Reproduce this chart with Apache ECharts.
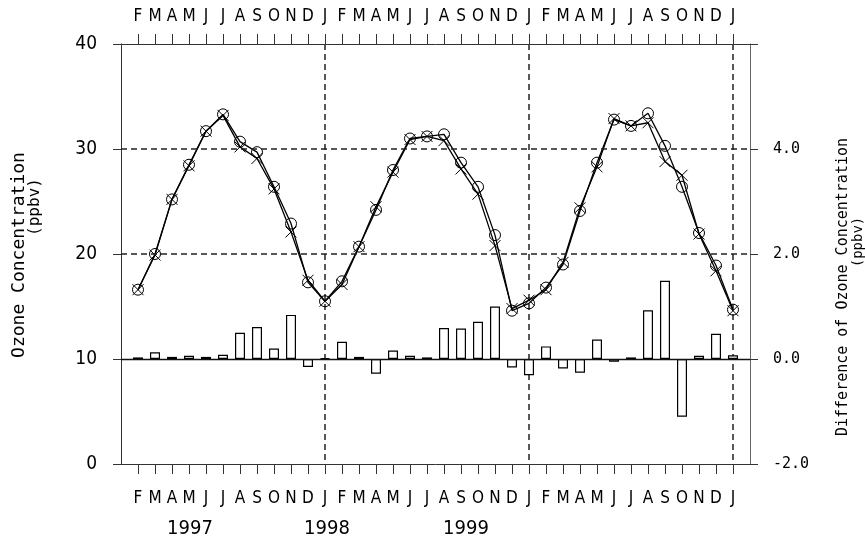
<!DOCTYPE html>
<html>
<head>
<meta charset="utf-8">
<script src="https://cdn.jsdelivr.net/npm/echarts@6/dist/echarts.min.js"></script>
<style>
  html, body { margin: 0; padding: 0; background: #fff; }
  #chart { width: 865px; height: 544px; }
</style>
</head>
<body>
<div id="chart"></div>
<script>
// Month axis from Jan 1997 to Feb 2000; the outer two slots are the plot edges
const monthTicks = [
  'J','F','M','A','M','J','J','A','S','O','N','D',
  'J','F','M','A','M','J','J','A','S','O','N','D',
  'J','F','M','A','M','J','J','A','S','O','N','D',
  'J','F'
];
const years = ['1997', '1998', '1999'];

// Monthly ozone, Feb 1997 .. Jan 2000 (ppbv)
const ozoneCircle = [
  16.6, 20.0, 25.2, 28.5, 31.7, 33.3, 30.7, 29.7, 26.4, 22.9, 17.3,
  15.5, 17.4, 20.7, 24.2, 28.0, 31.0, 31.2, 31.4, 28.7, 26.4, 21.8, 14.6,
  15.3, 16.8, 19.0, 24.1, 28.7, 32.8, 32.2, 33.4, 30.3, 26.4, 22.0, 18.9,
  14.7
];
const ozoneCross = [
  16.6, 19.9, 25.2, 28.4, 31.7, 33.2, 30.2, 29.1, 26.2, 22.1, 17.5,
  15.5, 17.1, 20.7, 24.5, 27.8, 30.9, 31.2, 30.8, 28.1, 25.7, 20.8, 14.8,
  15.6, 16.6, 19.2, 24.4, 28.3, 32.9, 32.2, 32.5, 28.8, 27.5, 21.9, 18.4,
  14.6
];
// Difference between the two (ppbv)
const ozoneDiff = [
  0.03, 0.13, 0.04, 0.06, 0.04, 0.08, 0.50, 0.61, 0.20, 0.84, -0.15,
  0.02, 0.33, 0.04, -0.28, 0.16, 0.06, 0.03, 0.59, 0.58, 0.71, 1.00, -0.16,
  -0.31, 0.24, -0.18, -0.26, 0.37, -0.05, 0.03, 0.93, 1.49, -1.10, 0.06, 0.48,
  0.07
];
const leftTicks = [0, 10, 20, 30, 40];
const rightTicks = [-2, 0, 2, 4, 6];
const dashedLevels = [20, 30];
const yearBreaks = [12, 24, 36];

const FONT_NUM = "'Liberation Sans Narrow', 'DejaVu Sans Condensed', 'Liberation Sans', sans-serif";
const FONT_MONO = "'DejaVu Sans Mono', 'Liberation Mono', monospace";
const INK = '#000';
const AXIS = '#333';
const DASH = { color: '#222', width: 1.5, type: [6, 4] };

const toPairs = arr => arr.map((v, i) => [i + 1, v]);
const inner = idx => idx >= 1 && idx <= monthTicks.length - 2;

const chart = echarts.init(document.getElementById('chart'), null, { renderer: 'canvas' });

const crossPath = 'path://M0,0L10,10M10,0L0,10';

const xAxisBase = {
  type: 'category',
  data: monthTicks,
  boundaryGap: false,
  axisLine: { show: true, onZero: false, lineStyle: { color: AXIS, width: 1 } },
  axisTick: { show: true, interval: inner, length: 10, lineStyle: { color: AXIS, width: 1 } },
  axisLabel: { interval: inner, color: INK, fontFamily: FONT_NUM, fontSize: 17 }
};

chart.setOption({
  animation: false,
  backgroundColor: '#fff',
  grid: { left: 121, top: 44, width: 629, height: 420, containLabel: false },
  xAxis: [
    Object.assign({}, xAxisBase, {
      position: 'bottom',
      axisLabel: Object.assign({}, xAxisBase.axisLabel, { margin: 26 }),
      splitLine: {
        show: true,
        interval: idx => yearBreaks.indexOf(idx) >= 0,
        lineStyle: DASH
      }
    }),
    Object.assign({}, xAxisBase, {
      position: 'top',
      axisLabel: Object.assign({}, xAxisBase.axisLabel, { margin: 19 }),
      splitLine: { show: false }
    })
  ],
  yAxis: [
    {
      type: 'value', min: leftTicks[0], max: leftTicks[leftTicks.length - 1], interval: 10,
      position: 'left',
      axisLine: { show: true, onZero: false, lineStyle: { color: AXIS } },
      axisTick: { show: true, length: 8, lineStyle: { color: AXIS } },
      axisLabel: { color: INK, fontFamily: FONT_NUM, fontSize: 19, margin: 24 },
      splitLine: { show: false }
    },
    {
      type: 'value', min: rightTicks[0], max: rightTicks[rightTicks.length - 1], interval: 2,
      position: 'right',
      axisLine: { show: true, onZero: false, lineStyle: { color: '#666' } },
      axisTick: { show: true, length: 8, lineStyle: { color: AXIS } },
      axisLabel: {
        color: INK, fontFamily: FONT_MONO, fontSize: 15, margin: 23,
        formatter: v => (v === rightTicks[rightTicks.length - 1] ? '' : v.toFixed(1))
      },
      splitLine: { show: false }
    }
  ],
  series: [
    {
      type: 'bar',
      xAxisIndex: 0, yAxisIndex: 1,
      data: toPairs(ozoneDiff),
      barWidth: 10,
      itemStyle: { color: '#fff', borderColor: INK, borderWidth: 1.2 },
      z: 2,
      // zero baseline of the difference bars
      markLine: {
        silent: true, symbol: 'none', label: { show: false },
        lineStyle: { color: '#111', width: 1.3, type: 'solid' },
        data: [{ yAxis: 0 }]
      }
    },
    {
      type: 'line',
      xAxisIndex: 0, yAxisIndex: 0,
      data: toPairs(ozoneCross),
      symbol: crossPath,
      symbolSize: 11,
      itemStyle: { color: 'rgba(0,0,0,0)', borderColor: INK, borderWidth: 1 },
      lineStyle: { color: INK, width: 1.3 },
      z: 3,
      markLine: {
        silent: true, symbol: 'none', label: { show: false },
        lineStyle: DASH,
        data: dashedLevels.map(v => ({ yAxis: v }))
      }
    },
    {
      type: 'line',
      xAxisIndex: 0, yAxisIndex: 0,
      data: toPairs(ozoneCircle),
      symbol: 'circle',
      symbolSize: 11,
      itemStyle: { color: 'rgba(255,255,255,0)', borderColor: INK, borderWidth: 1 },
      lineStyle: { color: INK, width: 1.3 },
      z: 4
    }
  ],
  graphic: [
    { type: 'text', x: 19, y: 255, rotation: Math.PI / 2,
      style: { text: 'Ozone Concentration', font: "18px 'DejaVu Sans Mono', monospace", fill: INK, align: 'center', verticalAlign: 'middle' } },
    { type: 'text', x: 35, y: 207, rotation: Math.PI / 2,
      style: { text: '(ppbv)', font: "16px 'DejaVu Sans Mono', monospace", fill: INK, align: 'center', verticalAlign: 'middle' } },
    { type: 'text', x: 843, y: 287, rotation: Math.PI / 2,
      style: { text: 'Difference of Ozone Concentration', font: "15px 'DejaVu Sans Mono', monospace", fill: INK, align: 'center', verticalAlign: 'middle' } },
    { type: 'text', x: 858, y: 242, rotation: Math.PI / 2,
      style: { text: '(ppbv)', font: "14px 'DejaVu Sans Mono', monospace", fill: INK, align: 'center', verticalAlign: 'middle' } }
  ].concat(years.map((y, i) => ({
    type: 'text', x: [190, 327, 466][i], y: 529,
    style: { text: y, font: "20px " + FONT_NUM, fill: INK, align: 'center', verticalAlign: 'middle' }
  })))
});
</script>
</body>
</html>
